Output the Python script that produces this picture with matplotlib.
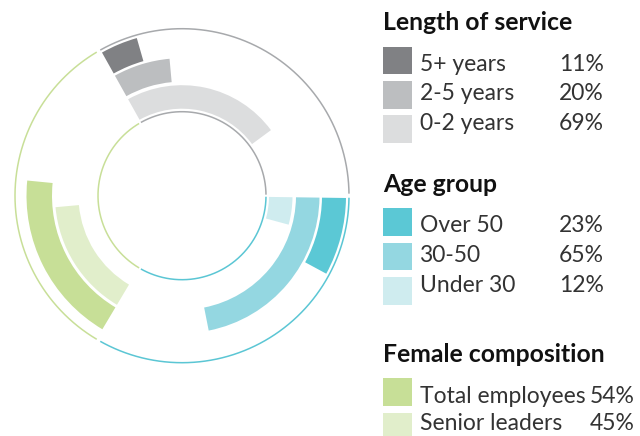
import numpy as np
import matplotlib
matplotlib.use("Agg")
import matplotlib.pyplot as plt
from matplotlib.patches import Rectangle

# ---------------- data ----------------
service_title = "Length of service"
service_labels = ["5+ years", "2-5 years", "0-2 years"]
service_pct = [11, 20, 69]

age_title = "Age group"
age_labels = ["Over 50", "30-50", "Under 30"]
age_pct = [23, 65, 12]

female_title = "Female composition"
female_labels = ["Total employees", "Senior leaders"]
female_pct = [54, 45]

# ---------------- styles ----------------
service_colors = ["#808184", "#BCBEC0", "#DCDDDE"]
age_colors = ["#5BC8D5", "#94D7E1", "#CFECEF"]
female_colors = ["#C7DF97", "#E1EECB"]
ring_colors = ["#A7A9AC", "#5BC6D4", "#C8DF98"]

plt.rcParams['font.family'] = ['Lato', 'DejaVu Sans']

W, H = 640, 436
fig = plt.figure(figsize=(W / 100, H / 100), dpi=100)

cx, cy = 182.0, 195.7          # centre in pixels (from top-left)
R = 172.0                      # axes radius in pixels / data units
ax = fig.add_axes([(cx - R) / W, (H - cy - R) / H, 2 * R / W, 2 * R / H],
                  projection='polar')
ax.set_ylim(0, R)
ax.set_theta_offset(np.deg2rad(120))
ax.set_theta_direction(-1)
ax.axis('off')

bands3 = [(140, 164), (114, 137.5), (87, 110.5)]
bands2 = [(130, 155.5), (103.5, 127)]

groups = [
    (service_pct, service_colors, bands3),
    (age_pct, age_colors, bands3),
    (female_pct, female_colors, bands2),
]

pad = 0.8
for s, (vals, cols, bands) in enumerate(groups):
    start = s * 120 + pad
    for v, c, (r0, r1) in zip(vals, cols, bands):
        ax.bar(np.deg2rad(start), r1 - r0, width=np.deg2rad(v * 1.2),
               bottom=r0, align='edge', color=c, linewidth=0)
    # ring segments
    for r in (167, 84):
        th = np.deg2rad(np.linspace(s * 120 + 0.7, (s + 1) * 120 - 0.7, 300))
        ax.plot(th, np.full_like(th, r), color=ring_colors[s], lw=1.1,
                solid_capstyle='butt')

# ---------------- legend ----------------
def px(x, y):
    return x / W, 1 - y / H

fs = 16.5
tfs = 17.8
sq_w, sq_h = 28.5, 27.5
# title baseline, first square top, first text baseline, text step, pct right edge
legend_groups = [
    (service_title, service_labels, service_pct, service_colors, 29.5, 46.7, 70.7, 29.8, 604),
    (age_title, age_labels, age_pct, age_colors, 191.7, 208.3, 232.3, 29.8, 604),
    (female_title, female_labels, female_pct, female_colors, 361.7, 378.3, 402.5, 27.5, 635),
]
for title, labels, vals, cols, ty, sy, tb, tstep, pr in legend_groups:
    fig.text(*px(383, ty), title, fontsize=tfs, fontweight='bold',
             color='#111111', va='baseline', ha='left')
    for i, (lab, v, c) in enumerate(zip(labels, vals, cols)):
        top = sy + i * 34.4
        fig.patches.append(Rectangle(px(383, top + sq_h), sq_w / W, sq_h / H,
                                     transform=fig.transFigure, color=c,
                                     linewidth=0))
        base = tb + i * tstep
        fig.text(*px(419.5, base), lab, fontsize=fs, color='#333333',
                 va='baseline', ha='left')
        fig.text(*px(pr, base), f"{v}%", fontsize=fs, color='#333333',
                 va='baseline', ha='right')

fig.savefig("out.png", dpi=100)
